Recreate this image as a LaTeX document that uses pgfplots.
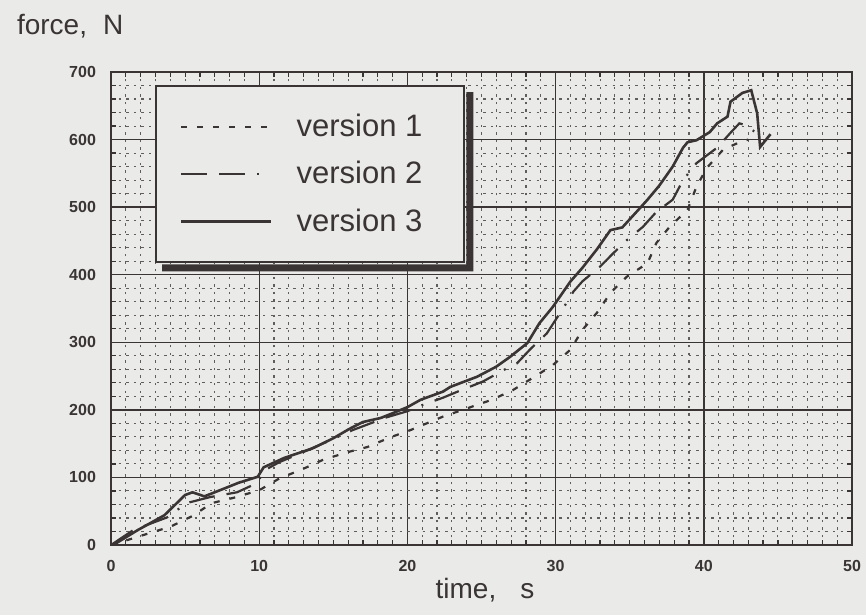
\documentclass[border=0pt]{standalone}
\usepackage{fontspec}
\setmainfont{Liberation Sans}
\usepackage{pgfplots}
\pgfplotsset{compat=1.18}
\definecolor{paper}{RGB}{234,234,232}
\definecolor{ink}{RGB}{58,52,52}
\begin{document}
\begin{tikzpicture}
\useasboundingbox[fill=paper] (-55.5pt,-35pt) rectangle (377.5pt,272.5pt);
\begin{axis}[
  scale only axis, width=370.5pt, height=236.5pt,
  xmin=0, xmax=50, ymin=0, ymax=700,
  xtick={0,10,...,50}, ytick={0,100,...,700},
  minor x tick num=9, minor y tick num=4,
  grid=both,
  major grid style={ink, line width=0.7pt},
  minor grid style={ink!80, line width=0.55pt, dash pattern=on 1.2pt off 2.6pt},
  axis line style={ink, line width=1pt},
  tick style={ink, line width=0.6pt},
  major tick length=3pt, minor tick length=2.5pt,
  tick align=inside,
  ticklabel style={font=\fontsize{8}{9}\selectfont\bfseries, text=ink},
  /pgf/number format/assume math mode=true,
  yticklabel style={xshift=-4pt},
  xticklabel style={yshift=-4pt},
  legend style={name=leg, at={(0.0594,0.9725)}, anchor=north west, draw=ink, line width=1pt,
    fill=paper, font=\fontsize{15.5}{18}\selectfont, text=ink,
    inner xsep=12pt, inner ysep=12pt, row sep=7pt,
    legend cell align=left},
  legend image code/.code={\draw[#1] (0pt,0pt) -- (45pt,0pt); \path (55pt,0pt);},
]
\addplot[ink, line width=1.1pt, dash pattern=on 3pt off 5pt] coordinates {
(0,0) (1.5,10) (2.8,19) (4,27) (5.5,43) (6.8,62) (8.3,70) (10,81) (11.4,99)
(12.8,111) (14.3,126) (15.9,137) (17.3,145) (18.8,159) (20.2,170) (22.4,190)
(24,202) (25.7,215) (27.1,229) (28.5,248) (29.8,266) (31,289) (31.8,318)
(32.8,344) (33.7,373) (34.8,397) (36.2,417) (36.8,447) (37.7,471) (38.9,496)
(39.5,530) (40.2,558) (41.3,585) (42.4,596) (43,600)
};
\addlegendentry{version 1\rule{7pt}{0pt}}
\addplot[ink, line width=1.1pt, dash pattern=on 13pt off 6pt on 13pt off 6pt on 1pt off 6pt] coordinates {
(0,0) (1.5,22) (3.8,41) (5.1,62) (6.7,71) (8.5,78) (9.9,92) (10.3,110)
(11.4,123) (12.8,136) (14.6,153) (16.3,170) (18.6,189) (20,198) (21,207)
(22.4,218) (23.5,228) (25.1,242) (26.5,259) (27.4,269) (28.3,290) (29.4,313)
(30.5,350) (31.2,375) (31.8,390) (33,412) (33.9,432) (34.8,451) (35.9,471)
(36.8,493) (37.9,511) (38.6,540) (39.5,565) (40.9,588) (41.8,610) (42.4,624)
(42.9,621) (43.4,612)
};
\addlegendentry{version 2\rule{7pt}{0pt}}
\addplot[ink, line width=1.3pt] coordinates {
(0,0) (0.3,2) (1.8,22) (3.6,44) (5.0,74) (5.5,78) (6.3,72) (7.0,78) (8.6,92)
(9.9,101) (10.3,115) (10.9,121) (11.7,129) (13.6,143) (15,158) (16.1,172)
(17,182) (18.2,188) (19,195) (20,204) (20.9,215) (22.4,227) (22.9,234)
(24.7,249) (26,264) (26.9,278) (28.1,299) (28.9,328) (29.8,352) (31,390)
(31.8,410) (32.8,438) (33.7,466) (34.5,470) (35.5,494) (36.2,511) (37,532)
(37.9,560) (38.6,588) (38.9,596) (39.5,599) (40.4,611) (40.9,624) (41.6,634)
(41.8,656) (42.6,669) (43.2,673) (43.6,639) (43.8,589) (44.5,608)
};
\addlegendentry{version 3\rule{7pt}{0pt}}
\end{axis}
\fill[ink] ([shift={(0.5pt,-3.5pt)}]leg.north east) -- ([shift={(4pt,-3.5pt)}]leg.north east)
  -- ([shift={(4pt,-4pt)}]leg.south east) -- ([shift={(3.5pt,-4pt)}]leg.south west)
  -- ([shift={(3.5pt,-0.5pt)}]leg.south west) -- ([shift={(0.5pt,-0.5pt)}]leg.south east) -- cycle;
\node[anchor=west, font=\fontsize{14}{16}\selectfont, text=ink] at (-50.5pt,259.5pt) {force,\hspace{8pt}N};
\node[font=\fontsize{14}{16}\selectfont, text=ink] at (187pt,-22.5pt) {time,\hspace{12pt}s};
\end{tikzpicture}
\end{document}
